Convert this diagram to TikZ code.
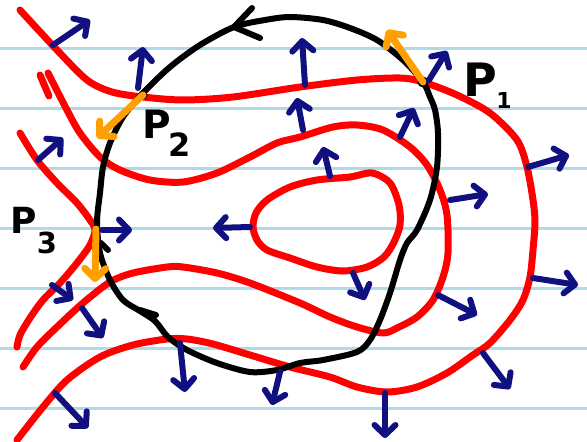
\documentclass[tikz,border=0pt]{standalone}
\usepackage{fontspec}
\setsansfont{DejaVu Sans}
\usetikzlibrary{arrows.meta}
\definecolor{navyc}{RGB}{16,16,128}
\definecolor{redc}{RGB}{255,0,0}
\definecolor{orangec}{RGB}{255,160,0}
\definecolor{linec}{RGB}{176,218,232}
\tikzset{
  ruled/.style={draw=linec, line width=3pt},
  level/.style={draw=redc, line width=7pt, line cap=round, line join=round},
  loopc/.style={draw=black, line width=6pt, line cap=round, line join=round},
  grad/.style={draw=navyc, line width=6pt, line cap=round,
     -{Straight Barb[length=10pt,width=21pt,line cap=round,line join=round]}},
  tang/.style={draw=orangec, line width=7pt, line cap=round,
     -{Straight Barb[length=10pt,width=21pt,line cap=round,line join=round]}},
  lab/.style={inner sep=0pt, font=\sffamily\bfseries},
}
\begin{document}
\begin{tikzpicture}[x=1pt,y=-1pt]
\useasboundingbox (0,0) rectangle (587,442);
\fill[white] (0,0) rectangle (587,442);
% ruled paper
\foreach \yy in {48,108,168,228,288,348,408} \draw[ruled] (0,\yy) -- (587,\yy);
% red level curves
\draw[level] plot[smooth] coordinates {(20,10) (57,50) (87,80) (112,92) (143,97) (183,100) (233,97) (300,87) (357,80) (400,78) (423,82) (457,95) (490,113) (517,140) (527,167) (533,200) (535,222) (533,250) (530,277) (523,300) (510,320) (490,343) (473,355) (447,373) (417,387) (387,392) (357,387) (330,377) (290,367) (250,355) (213,344) (187,339) (167,339) (133,345) (100,357) (67,380) (43,407) (17,440)};
\draw[level] plot[smooth] coordinates {(48,73) (67,110) (80,133) (100,157) (120,170) (150,180) (183,182) (217,173) (250,157) (277,143) (300,137) (333,127) (357,125) (383,130) (410,147) (427,165) (440,190) (447,215) (448,253) (443,277) (433,300) (417,317) (397,328) (383,333) (357,327) (330,317) (300,303) (250,283) (217,273) (183,267) (167,267) (133,273) (110,282) (83,303) (57,327) (37,347) (23,367)};
\draw[level] (40,75) -- (49,96);
\draw[level] plot[smooth] coordinates {(20,133) (37,160) (57,183) (77,203) (90,220) (95,230) (90,245) (77,263) (60,283) (43,300) (30,318) (20,335) (17,347)};
\draw[level] plot[smooth cycle] coordinates {(372,173) (390,183) (399,205) (400,225) (394,242) (384,257) (367,267) (343,271) (317,267) (290,258) (267,250) (257,240) (253,227) (256,213) (267,200) (290,187) (317,180) (350,177)};
% black closed curve
\draw[loopc] plot[smooth cycle] coordinates {(234,27) (200,45) (170,67) (143,93) (123,117) (110,143) (103,167) (100,193) (97,222) (100,253) (110,280) (123,300) (140,311) (155,321) (168,337) (187,350) (217,363) (250,372) (277,370) (300,363) (323,360) (357,352) (370,340) (380,320) (390,293) (400,260) (407,243) (417,230) (430,200) (437,167) (438,133) (435,110) (430,97) (423,82) (403,60) (377,40) (350,28) (323,20) (290,17) (265,20)};
\draw[loopc] (252,8) -- (234,27) -- (260,38);
\draw[loopc] (140,310) -- (156,315);
\draw[loopc] (101,243) -- (108,250);
% points
\fill (423,82) circle (5.5pt) coordinate (p1);
\fill (143,95) circle (4.5pt) coordinate (p2);
\coordinate (p3) at (96,229);
% orange tangent arrows
\coordinate (t1) at (387,30);
\coordinate (t2) at (97,138);
\coordinate (t3) at (95,282);
\draw[tang] (p1) -- (t1);
\draw[tang] (p2) -- (t2);
\draw[tang] (p3) -- (t3);
% navy gradient arrows
\foreach \ax/\ay/\bx/\by in {
  53/45/90/20, 138/88/143/47, 38/160/63/138, 305/85/302/38,
  303/130/297/98, 330/176/323/147, 400/137/414/108, 429/80/447/51,
  450/200/488/194, 528/167/569/155, 102/230/132/230, 250/227/213/228,
  353/273/365/300, 438/295/477/315, 533/278/578/285, 483/353/510/389,
  385/393/385/438, 180/343/185/392, 280/372/272/405, 55/393/88/428,
  52/285/73/300, 82/308/103/338}
  \draw[grad] (\ax,\ay) -- (\bx,\by);
% labels
\node[lab, font=\sffamily\bfseries\fontsize{46}{46}\selectfont] (P1) at (480,80) {P};
\node[lab, font=\sffamily\bfseries\fontsize{22}{22}\selectfont] (s1) at (504,100) {1};
\node[lab, font=\sffamily\bfseries\fontsize{39}{39}\selectfont] (P2) at (157,124) {P};
\node[lab, font=\sffamily\bfseries\fontsize{32}{32}\selectfont] (s2) at (180,145) {2};
\node[lab, font=\sffamily\bfseries\fontsize{36}{36}\selectfont] (P3) at (24,220) {P};
\node[lab, font=\sffamily\bfseries\fontsize{29}{29}\selectfont] (s3) at (47,243) {3};
\end{tikzpicture}
\end{document}
